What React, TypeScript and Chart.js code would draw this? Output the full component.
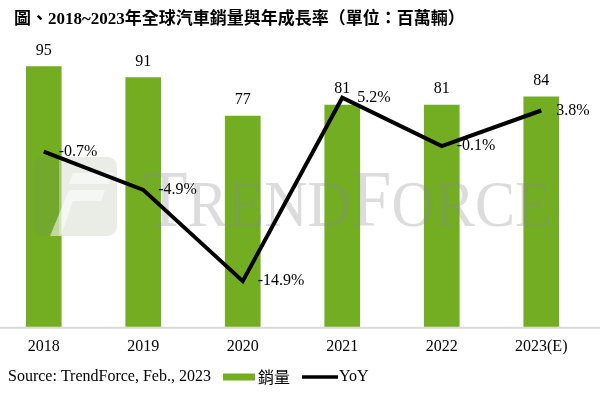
import React, { useEffect, useRef } from "react";
import { Chart, registerables } from "chart.js";

Chart.register(...registerables);

const categories = ["2018", "2019", "2020", "2021", "2022", "2023(E)"];
const salesValues = [95, 91, 77, 81, 81, 84];
const yoyValues = [-0.7, -4.9, -14.9, 5.2, -0.1, 3.8];
const titleText = "圖、2018~2023年全球汽車銷量與年成長率（單位：百萬輛）";
const sourceText = "Source: TrendForce, Feb., 2023";
const salesLabel = "銷量";
const yoyLabel = "YoY";
const watermarkParts: [string, boolean][] = [
  ["T", true],
  ["REND", false],
  ["F", true],
  ["ORCE", false],
];

const GREEN = "#72ad22";
const SHIFT = 6;
const SERIF = '"Liberation Serif", "Times New Roman", serif';
const TITLE_FONT = 'bold 17px "Liberation Serif", "Noto Sans CJK TC", serif';
const CJK_FONT = '16px "Noto Sans CJK TC", sans-serif';

function drawWatermark(ctx: CanvasRenderingContext2D) {
  ctx.save();
  // logo
  const lx = 33 + SHIFT;
  const ly = 157;
  ctx.fillStyle = "rgba(120,140,100,0.16)";
  ctx.beginPath();
  (ctx as any).roundRect(lx, ly, 84, 79, 9);
  ctx.fill();
  ctx.fillStyle = "rgba(255,255,255,0.55)";
  ctx.beginPath();
  ctx.moveTo(lx + 40, ly + 16);
  ctx.lineTo(lx + 80, ly + 16);
  ctx.lineTo(lx + 76, ly + 27);
  ctx.lineTo(lx + 36, ly + 27);
  ctx.closePath();
  ctx.fill();
  ctx.beginPath();
  ctx.moveTo(lx + 36, ly + 33);
  ctx.lineTo(lx + 72, ly + 33);
  ctx.lineTo(lx + 68, ly + 44);
  ctx.lineTo(lx + 40, ly + 44);
  ctx.lineTo(lx + 28, ly + 79);
  ctx.lineTo(lx + 17, ly + 79);
  ctx.closePath();
  ctx.fill();
  ctx.fillStyle = "rgba(255,255,255,0.35)";
  ctx.fillRect(lx + 26, ly, 3, 79);

  // text
  ctx.fillStyle = "rgba(140,140,140,0.3)";
  ctx.textBaseline = "alphabetic";
  ctx.textAlign = "left";
  ctx.translate(143 + SHIFT, 226);
  ctx.scale(0.91, 1);
  let x = 0;
  for (const [txt, big] of watermarkParts) {
    ctx.font = `${big ? 80 : 66}px ${SERIF}`;
    ctx.fillText(txt, x, 0);
    x += ctx.measureText(txt).width;
  }
  ctx.restore();
}

const decor = {
  id: "decor",
  beforeDatasetsDraw(chart: any) {
    const ctx = chart.ctx as CanvasRenderingContext2D;
    ctx.save();
    ctx.strokeStyle = "#d9d9d9";
    ctx.lineWidth = 2;
    ctx.beginPath();
    ctx.moveTo(SHIFT, chart.chartArea.bottom + 1);
    ctx.lineTo(600 + SHIFT, chart.chartArea.bottom + 1);
    ctx.stroke();
    ctx.restore();
  },
  afterDatasetDraw(chart: any, args: any) {
    if (args.index !== 1) return;
    drawWatermark(chart.ctx);
  },
  afterDatasetsDraw(chart: any) {
    const ctx = chart.ctx as CanvasRenderingContext2D;
    ctx.save();
    ctx.fillStyle = "#000";
    ctx.font = `16px ${SERIF}`;
    ctx.textBaseline = "middle";
    ctx.textAlign = "center";
    chart.getDatasetMeta(1).data.forEach((bar: any, i: number) => {
      ctx.fillText(String(salesValues[i]), bar.x, bar.y - 16);
    });
    ctx.textAlign = "left";
    chart.getDatasetMeta(0).data.forEach((pt: any, i: number) => {
      ctx.fillText(yoyValues[i].toFixed(1) + "%", pt.x + 15, pt.y);
    });
    ctx.restore();
  },
  afterDraw(chart: any) {
    const ctx = chart.ctx as CanvasRenderingContext2D;
    ctx.save();
    ctx.fillStyle = "#000";
    ctx.textBaseline = "middle";
    ctx.textAlign = "left";
    ctx.font = TITLE_FONT;
    ctx.fillText(titleText, 14 + SHIFT, 20);

    const ly = 377;
    ctx.font = `16px ${SERIF}`;
    ctx.fillText(sourceText, 8 + SHIFT, ly);

    ctx.fillStyle = GREEN;
    ctx.fillRect(223 + SHIFT, ly - 3.5, 32, 7);
    ctx.fillStyle = "#000";
    ctx.font = CJK_FONT;
    ctx.fillText(salesLabel, 258 + SHIFT, ly);

    ctx.strokeStyle = "#000";
    ctx.lineWidth = 3.5;
    ctx.beginPath();
    ctx.moveTo(302 + SHIFT, ly);
    ctx.lineTo(338 + SHIFT, ly);
    ctx.stroke();
    ctx.font = `16px ${SERIF}`;
    ctx.fillText(yoyLabel, 339 + SHIFT, ly);
    ctx.restore();
  },
};

export default function App() {
  const ref = useRef<HTMLCanvasElement>(null);
  useEffect(() => {
    if (!ref.current) return;
    const chart = new Chart(ref.current, {
      type: "bar",
      data: {
        labels: categories,
        datasets: [
          {
            type: "line",
            label: yoyLabel,
            data: yoyValues,
            yAxisID: "y2",
            borderColor: "#000",
            backgroundColor: "#000",
            borderWidth: 4,
            borderJoinStyle: "miter",
            pointRadius: 0,
            tension: 0,
          } as any,
          {
            type: "bar",
            label: salesLabel,
            data: salesValues,
            yAxisID: "y",
            backgroundColor: GREEN,
            barThickness: 35,
          },
        ],
      },
      options: {
        responsive: false,
        animation: false,
        layout: { padding: { top: 53, bottom: 33, left: 0, right: 9 } },
        plugins: {
          legend: { display: false },
          tooltip: { enabled: false },
          title: { display: false },
        },
        scales: {
          x: {
            grid: { display: false, drawTicks: false },
            border: { display: false },
            ticks: {
              color: "#000",
              font: { family: SERIF, size: 16 },
              padding: 10,
              maxRotation: 0,
              autoSkip: false,
            },
          },
          y: { display: false, min: 0, max: 100 },
          y2: { display: false, min: -19.9, max: 10.1 },
        },
      },
      plugins: [decor],
    });
    return () => chart.destroy();
  }, []);
  return (
    <div style={{ position: "absolute", left: -SHIFT, top: 0, width: 600 + SHIFT, height: 399 }}>
      <canvas ref={ref} width={600 + SHIFT} height={399} />
    </div>
  );
}
